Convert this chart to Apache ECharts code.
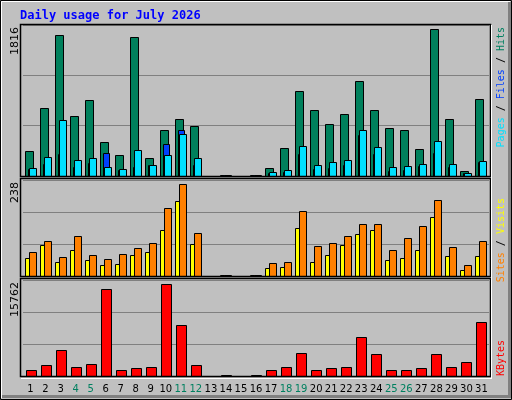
<!DOCTYPE html>
<html><head><meta charset="utf-8">
<script src="https://cdn.jsdelivr.net/npm/echarts@6/dist/echarts.min.js"></script>
<style>html,body{margin:0;padding:0;background:#c0c0c0}#c{width:512px;height:400px}</style>
</head><body><div id="c"></div>
<script>
const days = Array.from({length:31},(_,i)=>String(i+1));
const weekend = [4,5,11,12,18,19,25,26];
const hits  = [312,843,1742,744,941,423,263,1718,226,571,707,621,0,1,0,1,103,349,1052,818,645,768,1175,818,596,571,337,1816,707,66,954];
const files = [103,238,695,201,226,115,90,325,140,263,522,226,0,1,0,1,53,78,374,140,177,201,571,362,115,127,152,436,152,41,189];
const pages = [90,152,275,115,164,288,78,115,140,399,571,140,0,1,0,1,40,53,275,90,103,140,510,275,66,78,127,288,115,41,177];
const sites = [47,81,37,68,42,29,32,55,63,119,194,83,0,1,0,1,21,24,125,37,55,81,109,119,42,47,68,153,52,16,52];
const visits= [63,91,50,104,55,45,58,73,86,176,238,112,0,1,0,1,34,37,168,78,86,104,135,135,68,99,130,197,76,29,91];
const kbytes= [974,1834,4413,1490,2006,14903,974,1318,1490,15762,8712,1834,0,60,0,60,974,1490,3897,974,1318,1490,6649,3725,974,974,1318,3725,1490,2350,9228];
const maxLabels = ['1816','238','15762'];

const ch = echarts.init(document.getElementById('c'));
function bar(k, data, color, x0, x1, z){
  return {type:'custom', xAxisIndex:k, yAxisIndex:k, z:z, silent:true,
    data:data.map((v,i)=>[i,v]),
    renderItem:(p,api)=>{
      const v=api.value(1); if(!v) return;
      const t=api.coord([api.value(0),v]), b=api.coord([api.value(0),0]);
      const yb=Math.round(b[1]), yt=Math.min(Math.round(t[1]), yb-1);
      return {type:'rect', shape:{x:Math.round(t[0]+x0)+0.5, y:yt+0.5, width:x1-x0, height:yb-yt},
        style:{fill:color, stroke:'#000', lineWidth:1}};
    }};
}
const maxes=[1865,248,16450];
const grids=[{left:23,right:23,top:25,height:151},{left:23,right:23,top:180,height:96},{left:23,right:23,top:280,height:96}];
const lf={fontFamily:'DejaVu Sans',fontSize:10};
const xAxes=grids.map((g,k)=>({type:'category', gridIndex:k, data:days, boundaryGap:true,
  axisLine:{show:false}, axisTick:{show:false},
  axisLabel:{show:k===2, margin:8, interval:0, fontFamily:'DejaVu Sans', fontSize:10,
    formatter:v=>weekend.includes(+v)?'{w|'+v+'}':'{d|'+v+'}',
    rich:{w:Object.assign({color:'#008060'},lf),d:Object.assign({color:'#000'},lf)}}}));
const yAxes=grids.map((g,k)=>({type:'value', gridIndex:k, min:0, max:maxes[k], interval:maxes[k]/3,
  axisLine:{show:false}, axisTick:{show:false}, axisLabel:{show:false},
  splitLine:{lineStyle:{color:'#808080',width:1}}}));
function vtext(x,y,rich,text,font){
  return {type:'text', x:x, y:y, rotation:Math.PI/2, z:10,
    style:{text:text, rich:rich, font:font, align:'right', verticalAlign:'middle', fill:'#000'}};
}
const mono='10px "DejaVu Sans Mono"';
const graphic=[
  {type:'rect', shape:{x:0.5,y:0.5,width:511,height:399}, style:{fill:'none',stroke:'#000',lineWidth:1}, z:10},
  {type:'polyline', shape:{points:[[1.5,398],[1.5,1.5],[510,1.5]]}, style:{stroke:'#fff',lineWidth:1,fill:'none'}, z:10},
  {type:'polyline', shape:{points:[[2,396.5],[509.5,396.5],[509.5,2]]}, style:{stroke:'#808080',lineWidth:3,fill:'none'}, z:10},
  {type:'rect', shape:{x:20.5,y:24.5,width:470,height:152}, style:{fill:'none',stroke:'#000',lineWidth:1.5}, z:10},
  {type:'rect', shape:{x:20.5,y:178.5,width:470,height:98}, style:{fill:'none',stroke:'#000',lineWidth:1.5}, z:10},
  {type:'rect', shape:{x:20.5,y:278.5,width:470,height:98}, style:{fill:'none',stroke:'#000',lineWidth:1.5}, z:10},
  {type:'line', shape:{x1:491.5,y1:25,x2:491.5,y2:378}, style:{stroke:'#fff',lineWidth:1}, z:10},
  {type:'line', shape:{x1:21,y1:378.5,x2:492,y2:378.5}, style:{stroke:'#fff',lineWidth:1}, z:10},
  {type:'text', x:20, y:16, z:10, style:{text:'Daily usage for July 2026', font:'bold 12px "DejaVu Sans Mono"', fill:'#0000ff', verticalAlign:'middle'}},
  vtext(15,27,null,maxLabels[0],'11px "DejaVu Sans"'),
  vtext(15,182,null,maxLabels[1],'11px "DejaVu Sans"'),
  vtext(15,282,null,maxLabels[2],'11px "DejaVu Sans"'),
  vtext(501,27,{p:{fill:'#00e0ff',font:mono},f:{fill:'#0040ff',font:mono},h:{fill:'#008060',font:mono},s:{fill:'#000',font:mono}},
    '{p|Pages}{s| / }{f|Files}{s| / }{h|Hits}',mono),
  vtext(501,198,{a:{fill:'#ff8000',font:mono},b:{fill:'#ffff00',font:mono},s:{fill:'#000',font:mono}},
    '{a|Sites}{s| / }{b|Visits}',mono),
  vtext(501,340,{k:{fill:'#ff0000',font:mono}},'{k|KBytes}',mono)
];
ch.setOption({
  animation:false, backgroundColor:'#c0c0c0',
  grid:grids, xAxis:xAxes, yAxis:yAxes, graphic:graphic,
  series:[
    bar(0,hits,'#00805c',-6,2,3),
    bar(0,pages,'#0040ff',-3,3,4),
    bar(0,files,'#00e0ff',-2,5,5),
    bar(1,sites,'#ffff00',-6,2,3),
    bar(1,visits,'#ff8000',-2,5,4),
    bar(2,kbytes,'#ff0000',-5,5,3)
  ]
});
</script></body></html>
